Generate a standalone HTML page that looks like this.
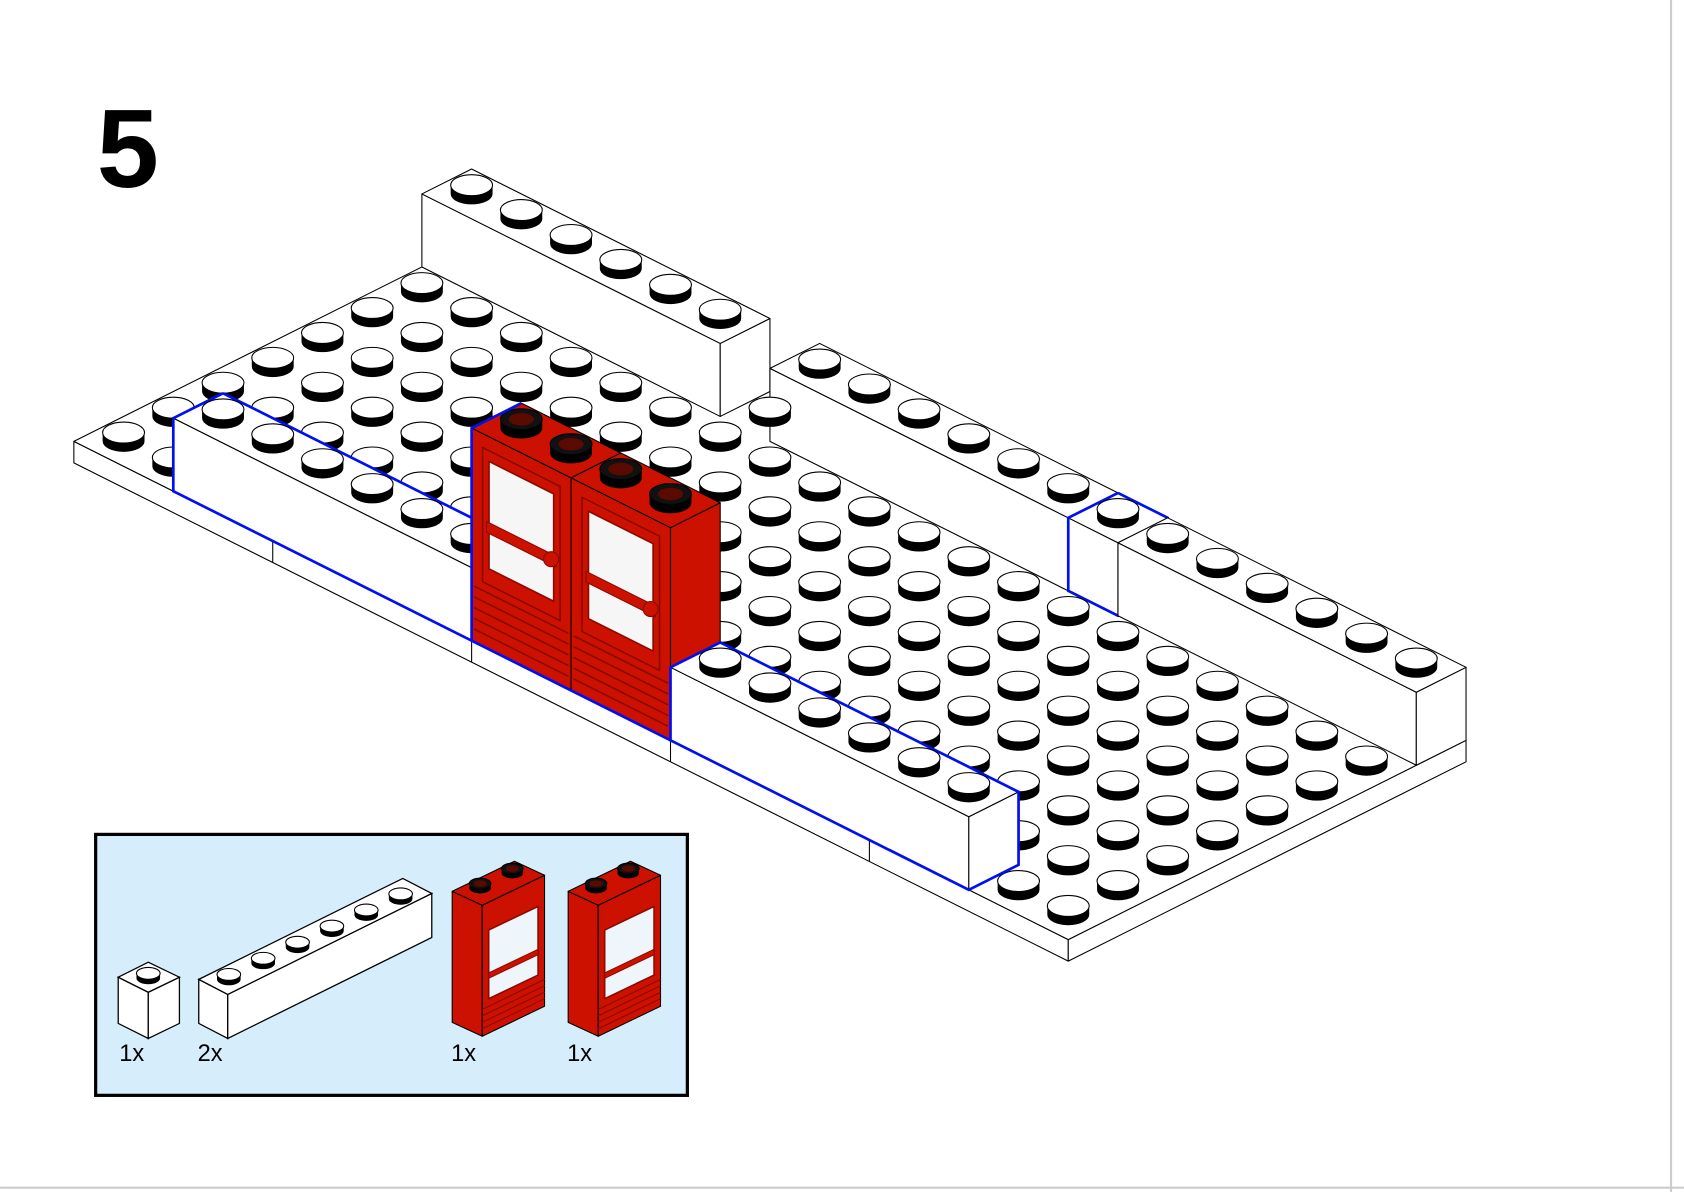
<!DOCTYPE html>
<html><head><meta charset="utf-8"><style>
html,body{margin:0;padding:0;background:#fff;}
svg{display:block;}
</style></head><body>
<svg id="s" width="1684" height="1192" viewBox="0 0 1568 1110" xmlns="http://www.w3.org/2000/svg" font-family="Liberation Sans, sans-serif">
<rect width="1568" height="1110" fill="#fff"/>
<line x1="1556" y1="0" x2="1556" y2="1110" stroke="#ccc" stroke-width="2"/>
<line x1="0" y1="1106" x2="1568" y2="1106" stroke="#ccc" stroke-width="2"/>
<text x="90" y="174" font-size="104" font-weight="bold" fill="#000">5</text>
<g id="main"></g>
<!-- parts box -->
<rect x="89" y="777" width="551" height="243" fill="#d6eefb" stroke="#000" stroke-width="3"/>
<g stroke="#000" stroke-width="1.2" fill="#fff">
 <polygon points="110,910 138,924 138,967 110,953"/>
 <polygon points="138,924 167,910 167,953 138,967"/>
 <polygon points="110,910 138,896 167,910 138,924"/>
 <polygon points="185,912 212,926 212,967 185,953"/>
 <polygon points="212,926 402,832 402,873 212,967"/>
 <polygon points="185,912 375,818 402,832 212,926"/>
</g>
<g id="parts"></g>
<g font-size="22" fill="#000">
<text x="111" y="988">1x</text><text x="184" y="988">2x</text><text x="420" y="988">1x</text><text x="528" y="988">1x</text>
</g>
</svg>
<script>
const NS="http://www.w3.org/2000/svg";
const A=[46.3,23.2],B=[46.3,-23.2],O=[115,411],H=68,PT=20;
function P(i,j,h){return [O[0]+A[0]*i+B[0]*j, O[1]+A[1]*i+B[1]*j-h];}
let out="";
function poly(pts,fill,stroke,sw){out+=`<polygon points="${pts.map(p=>p[0].toFixed(1)+","+p[1].toFixed(1)).join(" ")}" fill="${fill}" stroke="${stroke||'#000'}" stroke-width="${sw||1}" stroke-linejoin="round"/>`;}
function stud(x,y,rx,hollow,red){ // x,y base center
  const ry=rx/2, sh=rx*0.42;
  out+=`<path d="M${x-rx},${y-sh} L${x-rx},${y} A${rx},${ry} 0 0 0 ${x+rx},${y} L${x+rx},${y-sh} Z" fill="#000"/>`;
  if(red){
    out+=`<ellipse cx="${x}" cy="${y-sh}" rx="${rx}" ry="${ry}" fill="#111" stroke="#000"/>`;
    out+=`<ellipse cx="${x}" cy="${y-sh}" rx="${rx*0.6}" ry="${ry*0.6}" fill="#5a0a00"/>`;
  } else
  out+=`<ellipse cx="${x}" cy="${y-sh}" rx="${rx}" ry="${ry}" fill="#fff" stroke="#000" stroke-width="1"/>`;
}
function pstud(i,j,h,red){const p=P(i,j,h);stud(p[0],p[1],19.5,false,red);}
function box(i0,i1,j0,j1,h0,h1,fill,blue){
  const il=i0-.5,ir=i1+.5,jl=j0-.5,jr=j1+.5;
  const c=(i,j,h)=>P(i,j,h);
  poly([c(il,jl,h0),c(ir,jl,h0),c(ir,jl,h1),c(il,jl,h1)],fill);
  poly([c(ir,jl,h0),c(ir,jr,h0),c(ir,jr,h1),c(ir,jl,h1)],fill);
  poly([c(il,jl,h1),c(ir,jl,h1),c(ir,jr,h1),c(il,jr,h1)],fill);
  if(blue){out+=`<polyline points="${[c(il,jr,h1),c(il,jl,h1),c(il,jl,h0),c(ir,jl,h0),c(ir,jr,h0),c(ir,jr,h1),c(il,jr,h1)].map(p=>p.join(",")).join(" ")}" fill="none" stroke="#0010ee" stroke-width="2.5"/>`;}
}
// plate
box(0,19,0,7,-PT,0,"#fff");
// plate seams
[4,8,12,16].forEach(k=>{const a=P(k-0.5,-0.5,0),b=P(k-0.5,-0.5,-PT);out+=`<line x1="${a[0]}" y1="${a[1]}" x2="${b[0]}" y2="${b[1]}" stroke="#000"/>`;});
// back row bricks
box(0,5,7,7,0,H,"#fff");for(let i=0;i<6;i++)pstud(i,7,H);
box(7,12,7,7,0,H,"#fff");for(let i=7;i<13;i++)pstud(i,7,H);
box(13,13,7,7,0,H,"#fff",true);pstud(13,7,H);
box(14,19,7,7,0,H,"#fff");for(let i=14;i<20;i++)pstud(i,7,H);
pstud(6,7,0);
// plate studs rows j=6..0
for(let j=6;j>=0;j--)for(let i=0;i<20;i++){if(j==0&&i>=2&&i<=17)continue;pstud(i,j,0);}
// front bricks
box(2,7,0,0,0,H,"#fff",true);for(let i=2;i<8;i++)pstud(i,0,H);
// doors
const DH=198,RED="#cc1100",DR="#8a0a00";
function door(i0){
  box(i0,i0+1,0,0,0,DH,RED);
  const f=(u,v)=>P(i0-0.5+u,-0.5,v);
  poly([f(.22,60),f(1.78,60),f(1.78,185),f(.22,185)],RED,DR,1.5);
  poly([f(.35,75),f(1.65,75),f(1.65,175),f(.35,175)],"#f6f6f6",DR,1.5);
  poly([f(.3,108),f(1.7,108),f(1.7,118),f(.3,118)],RED,DR,1);
  for(let v=12;v<60;v+=10){const a=f(.05,v),b=f(1.95,v);out+=`<line x1="${a[0]}" y1="${a[1]}" x2="${b[0]}" y2="${b[1]}" stroke="${DR}" stroke-width="1.5"/>`;}
  const k=f(1.6,113);out+=`<circle cx="${k[0]}" cy="${k[1]}" r="7" fill="${RED}" stroke="${DR}"/>`;
  pstud(i0,0,DH,true);pstud(i0+1,0,DH,true);
}
door(8);door(10);
{const a=P(7.5,-0.5,0),b=P(11.5,-0.5,0),c=P(11.5,0.5,DH),d=P(7.5,0.5,DH),e=P(7.5,-0.5,DH);
out+=`<polyline points="${[d,e,a,b].map(p=>p.join(",")).join(" ")}" fill="none" stroke="#0010ee" stroke-width="2.5"/>`;}
box(12,17,0,0,0,H,"#fff",true);for(let i=12;i<18;i++)pstud(i,0,H);
document.getElementById("main").innerHTML=out;
// parts
out="";
stud(138,911,11);
for(let k=0;k<6;k++)stud(213+32*k,912-15*k,11);
function pdoor(dx){
  const q=(pts)=>pts.map(p=>[p[0]+dx,p[1]]);
  poly(q([[421,830],[449,843],[449,965],[421,952]]),RED);
  poly(q([[449,843],[507,815],[507,937],[449,965]]),RED);
  poly(q([[421,830],[479,802],[507,815],[449,843]]),RED);
  poly(q([[455,866],[501,844],[501,908],[455,930]]),"#eef5fb",DR,1.5);
  poly(q([[455,906],[501,884],[501,889],[455,911]]),RED,DR,1);
  for(let v=0;v<4;v++)poly(q([[449,940+v*6],[507,912+v*6]]),"none",DR,1);
  stud(447+dx,827,10,false,true);stud(477+dx,813,10,false,true);
}
pdoor(0);pdoor(108);
document.getElementById("parts").innerHTML=out;
</script>
</body></html>
